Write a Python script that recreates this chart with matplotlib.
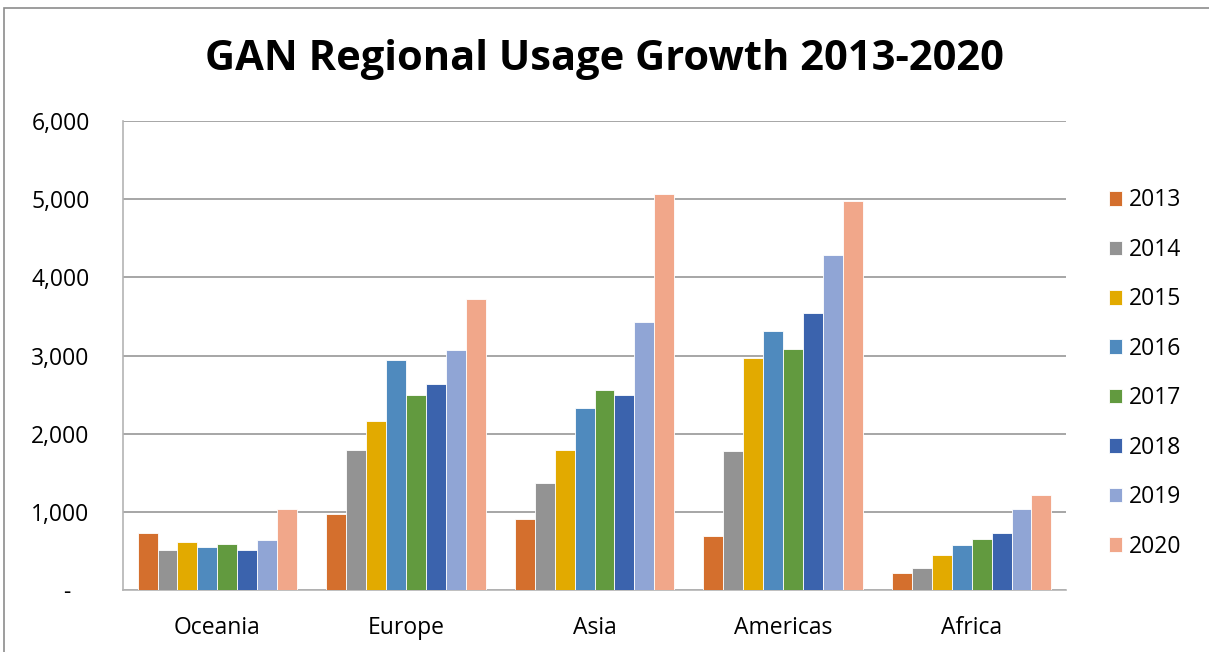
import numpy as np
import matplotlib.pyplot as plt
from matplotlib.patches import Rectangle
from matplotlib.ticker import FuncFormatter

# -------------------------------------------------
# data
# -------------------------------------------------
regions = ["Oceania", "Europe", "Asia", "Americas", "Africa"]
years = ["2013", "2014", "2015", "2016", "2017", "2018", "2019", "2020"]

usage_2013 = [731, 970, 910, 687, 213]
usage_2014 = [513, 1795, 1367, 1777, 286]
usage_2015 = [615, 2158, 1786, 2965, 453]
usage_2016 = [547, 2940, 2328, 3315, 581]
usage_2017 = [590, 2490, 2564, 3081, 654]
usage_2018 = [517, 2632, 2500, 3538, 731]
usage_2019 = [636, 3068, 3427, 4282, 1038]
usage_2020 = [1038, 3722, 5072, 4982, 1213]

series = [usage_2013, usage_2014, usage_2015, usage_2016,
          usage_2017, usage_2018, usage_2019, usage_2020]
colors = ["#D46F2D", "#939393", "#E2AA00", "#4F8ABE",
          "#629A3F", "#3B63AD", "#90A5D5", "#F1A78A"]

plt.rcParams["font.family"] = ["Open Sans", "DejaVu Sans"]

fig = plt.figure(figsize=(12.09, 6.52), dpi=100)
ax = fig.add_axes([123 / 1209, 1 - 590 / 652, 943 / 1209, 469 / 652])

# chart frame
fig.patches.append(Rectangle((4 / 1209, -0.01), 1.1, 1 - 8 / 652 + 0.01,
                             transform=fig.transFigure, fill=False,
                             edgecolor="#8C8C8C", lw=1.2))

x = np.arange(len(regions))
n = len(series)
group = 0.845
w = group / n
for i, (vals, c) in enumerate(zip(series, colors)):
    ax.bar(x - group / 2 + w * (i + 0.5), vals, width=w, color=c,
           edgecolor="white", linewidth=0.6, label=years[i], zorder=3)

ax.set_xlim(-0.5, len(regions) - 0.5)
ax.set_ylim(0, 6000)
ax.set_yticks(np.arange(0, 6001, 1000))
ax.yaxis.set_major_formatter(FuncFormatter(lambda v, p: "-   " if v == 0 else f"{int(v):,}"))
ax.set_xticks(x)
ax.set_xticklabels(regions)
ax.grid(axis="y", color="#A6A6A6", lw=1.4, zorder=0)

for s in ["top", "right"]:
    ax.spines[s].set_visible(False)
for s in ["bottom", "left"]:
    ax.spines[s].set_color("#B4B4B4")
    ax.spines[s].set_linewidth(1.2)
ax.tick_params(axis="both", length=0, labelsize=16.5, colors="black")
ax.tick_params(axis="y", pad=24)
ax.tick_params(axis="x", pad=19)
for lab in ax.get_yticklabels():
    lab.set_horizontalalignment("right")

fig.text(0.5, 1 - 60 / 652, "GAN Regional Usage Growth 2013-2020",
         ha="center", va="center", fontsize=30, fontweight="bold")

fig.legend(loc="center left", bbox_to_anchor=(1088 / 1209, 1 - 373.5 / 652),
           frameon=False, fontsize=16.5, handlelength=0.6, handleheight=0.6,
           handletextpad=0.3, labelspacing=1.11)

fig.savefig("out.png", dpi=100)
